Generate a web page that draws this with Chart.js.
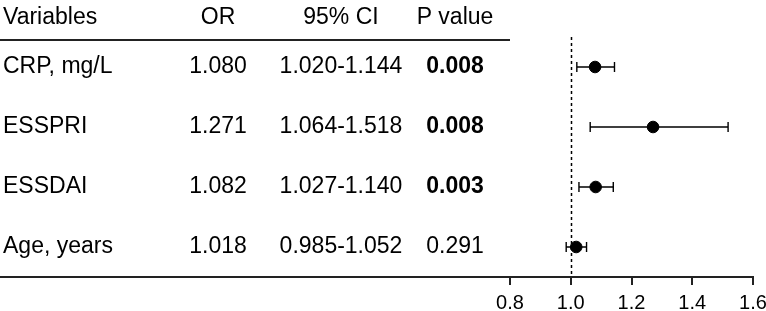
<!DOCTYPE html>
<html>
<head>
<meta charset="utf-8">
<script src="https://cdn.jsdelivr.net/npm/chart.js@4/dist/chart.umd.min.js"></script>
<style>
  html, body { margin: 0; padding: 0; background: #fff; }
  #wrap { width: 766px; height: 311px; }
</style>
</head>
<body>
<div id="wrap"><canvas id="c" width="766" height="311"></canvas></div>
<script>
const variables = ['CRP, mg/L', 'ESSPRI', 'ESSDAI', 'Age, years'];
const oddsRatios = [1.080, 1.271, 1.082, 1.018];
const ciLow = [1.020, 1.064, 1.027, 0.985];
const ciHigh = [1.144, 1.518, 1.140, 1.052];
const pValues = ['0.008', '0.008', '0.003', '0.291'];
const significant = [true, true, true, false];
const rowPositions = [3.5, 2.5, 1.5, 0.5];
const xTicks = [0.8, 1.0, 1.2, 1.4, 1.6];
const headers = ['Variables', 'OR', '95% CI', 'P value'];
const headerRow = 4.33;
const refValue = 1.0;

const FONT = '"Liberation Sans", Arial, Helvetica, sans-serif';
const INK = '#000';
const RULE = '#222';

const forestPlugin = {
  id: 'forest',
  afterDatasetsDraw(chart) {
    const ctx = chart.ctx;
    const xs = chart.scales.x, ys = chart.scales.y;
    ctx.save();
    // reference dashed line
    ctx.strokeStyle = INK;
    ctx.lineWidth = 1.5;
    ctx.setLineDash([3, 3]);
    ctx.beginPath();
    const xr = Math.round(xs.getPixelForValue(refValue)) + 0.5;
    ctx.moveTo(xr, ys.getPixelForValue(4.0));
    ctx.lineTo(xr, ys.getPixelForValue(0));
    ctx.stroke();
    ctx.setLineDash([]);
    // error bars
    ctx.lineWidth = 1.4;
    for (let i = 0; i < oddsRatios.length; i++) {
      const y = ys.getPixelForValue(rowPositions[i]);
      const x1 = xs.getPixelForValue(ciLow[i]);
      const x2 = xs.getPixelForValue(ciHigh[i]);
      ctx.beginPath();
      ctx.moveTo(x1, y); ctx.lineTo(x2, y);
      ctx.moveTo(x1, y - 5); ctx.lineTo(x1, y + 5);
      ctx.moveTo(x2, y - 5); ctx.lineTo(x2, y + 5);
      ctx.stroke();
    }
    ctx.restore();
  },
  afterDraw(chart) {
    const ctx = chart.ctx;
    const ys = chart.scales.y;
    const area = chart.chartArea;
    const colX = [3, 218, 341, 455];
    ctx.save();
    ctx.fillStyle = INK;
    ctx.textBaseline = 'middle';
    ctx.font = '23px ' + FONT;
    const hy = ys.getPixelForValue(headerRow);
    headers.forEach((h, j) => {
      ctx.textAlign = j === 0 ? 'left' : 'center';
      ctx.fillText(h, colX[j], hy);
    });
    for (let i = 0; i < variables.length; i++) {
      const y = ys.getPixelForValue(rowPositions[i]);
      ctx.font = '23px ' + FONT;
      ctx.textAlign = 'left';
      ctx.fillText(variables[i], colX[0], y);
      ctx.textAlign = 'center';
      ctx.fillText(oddsRatios[i].toFixed(3), colX[1], y);
      ctx.fillText(ciLow[i].toFixed(3) + '-' + ciHigh[i].toFixed(3), colX[2], y);
      ctx.font = (significant[i] ? 'bold ' : '') + '23px ' + FONT;
      ctx.fillText(pValues[i], colX[3], y);
    }
    // table rules
    ctx.strokeStyle = RULE;
    ctx.lineWidth = 2;
    ctx.beginPath();
    const ly = Math.round(ys.getPixelForValue(3.95));
    ctx.moveTo(0, ly); ctx.lineTo(510, ly);
    ctx.moveTo(0, area.bottom); ctx.lineTo(area.left, area.bottom);
    ctx.stroke();
    ctx.restore();
  }
};

new Chart(document.getElementById('c'), {
  type: 'scatter',
  data: {
    datasets: [{
      data: oddsRatios.map((v, i) => ({ x: v, y: rowPositions[i] })),
      backgroundColor: INK,
      borderColor: INK,
      pointRadius: 5.8,
      pointHoverRadius: 5.8
    }]
  },
  options: {
    responsive: false,
    animation: false,
    events: [],
    layout: { padding: { left: 510, right: 13, top: 7, bottom: 0 } },
    plugins: { legend: { display: false }, tooltip: { enabled: false } },
    scales: {
      x: {
        type: 'linear',
        min: 0.8,
        max: 1.6,
        afterBuildTicks(scale) { scale.ticks = xTicks.map(v => ({ value: v })); },
        afterFit(scale) { scale.height = 34; scale.paddingRight = 0; scale.paddingLeft = 0; },
        border: { display: true, color: RULE, width: 2 },
        grid: { drawOnChartArea: false, drawTicks: true, tickLength: 8, lineWidth: 2, color: RULE },
        ticks: {
          color: INK,
          padding: 6,
          font: { family: FONT, size: 20 },
          callback: v => Number(v).toFixed(1),
          maxRotation: 0
        }
      },
      y: {
        type: 'linear',
        min: 0,
        max: 4.5,
        display: false
      }
    }
  },
  plugins: [forestPlugin]
});
</script>
</body>
</html>
